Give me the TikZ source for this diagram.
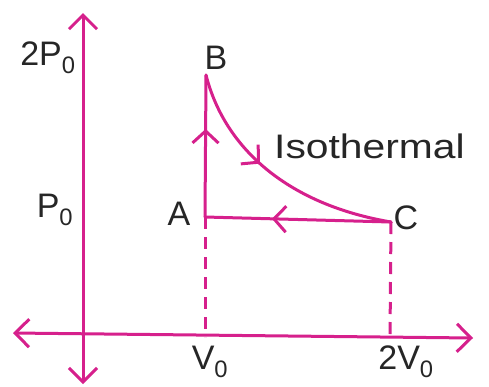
\documentclass[tikz,border=0pt]{standalone}
\usepackage{fontspec}
\setmainfont{Liberation Sans}
\usetikzlibrary{arrows.meta,decorations.markings}
\definecolor{pink}{RGB}{214,32,140}
\definecolor{ink}{RGB}{38,38,38}
\tikzset{
  x=1pt,y=-1pt,
  ln/.style={draw=pink,line width=3pt,line cap=round},
  bigtip/.tip={Straight Barb[length=14pt,width=28pt,line width=3pt]},
  smalltip/.tip={Straight Barb[length=12pt,width=26pt,line width=3pt]},
  dtips/.style={bigtip-bigtip},
  dsh/.style={draw=pink,line width=3pt,dash pattern=on 12pt off 8pt},
  lbl/.style={text=ink,font=\fontsize{34}{36}\selectfont,inner sep=0pt},
  mid/.style={postaction={decorate},decoration={markings,mark=at position #1 with {\arrow{smalltip}}}}
}
\begin{document}
\begin{tikzpicture}
\fill[white] (0,0) rectangle (489,386);
\useasboundingbox (0,0) rectangle (489,386);
% axes
\coordinate (yt) at (83,13);
\coordinate (yb) at (83,384);
\coordinate (xl) at (13,333);
\coordinate (xr) at (473,338);
\draw[ln,dtips] (yb) -- (yt);
\draw[ln,dtips] (xl) -- (xr);
% points
\coordinate (A) at (205,217);
\coordinate (B) at (206,75);
\coordinate (C) at (391,222);
\coordinate (Ad) at (205,337);
\coordinate (Cd) at (390,337);
% cycle
\draw[ln,mid=0.62] (A) -- (B);
\draw[ln,mid=0.42] (B) .. controls (225,150) and (290,205) .. (C);
\draw[ln,mid=0.64] (C) -- (A);
\draw[dsh] (A) -- (Ad);
\draw[dsh] (C) -- (Cd);
% labels
\node[lbl] (l2p) at (48,58) {2P\textsubscript{0}};
\node[lbl] (lp) at (55,210) {P\textsubscript{0}};
\node[lbl] (lB) at (216,58) {B};
\node[lbl] (lA) at (179,214) {A};
\node[lbl] (lC) at (406,218) {C};
\node[lbl,anchor=west] (liso) at (274,146) {\scalebox{1.2}[1]{Isothermal}};
\node[lbl] (lv) at (210,362) {V\textsubscript{0}};
\node[lbl] (l2v) at (406,362) {2V\textsubscript{0}};
\end{tikzpicture}
\end{document}
